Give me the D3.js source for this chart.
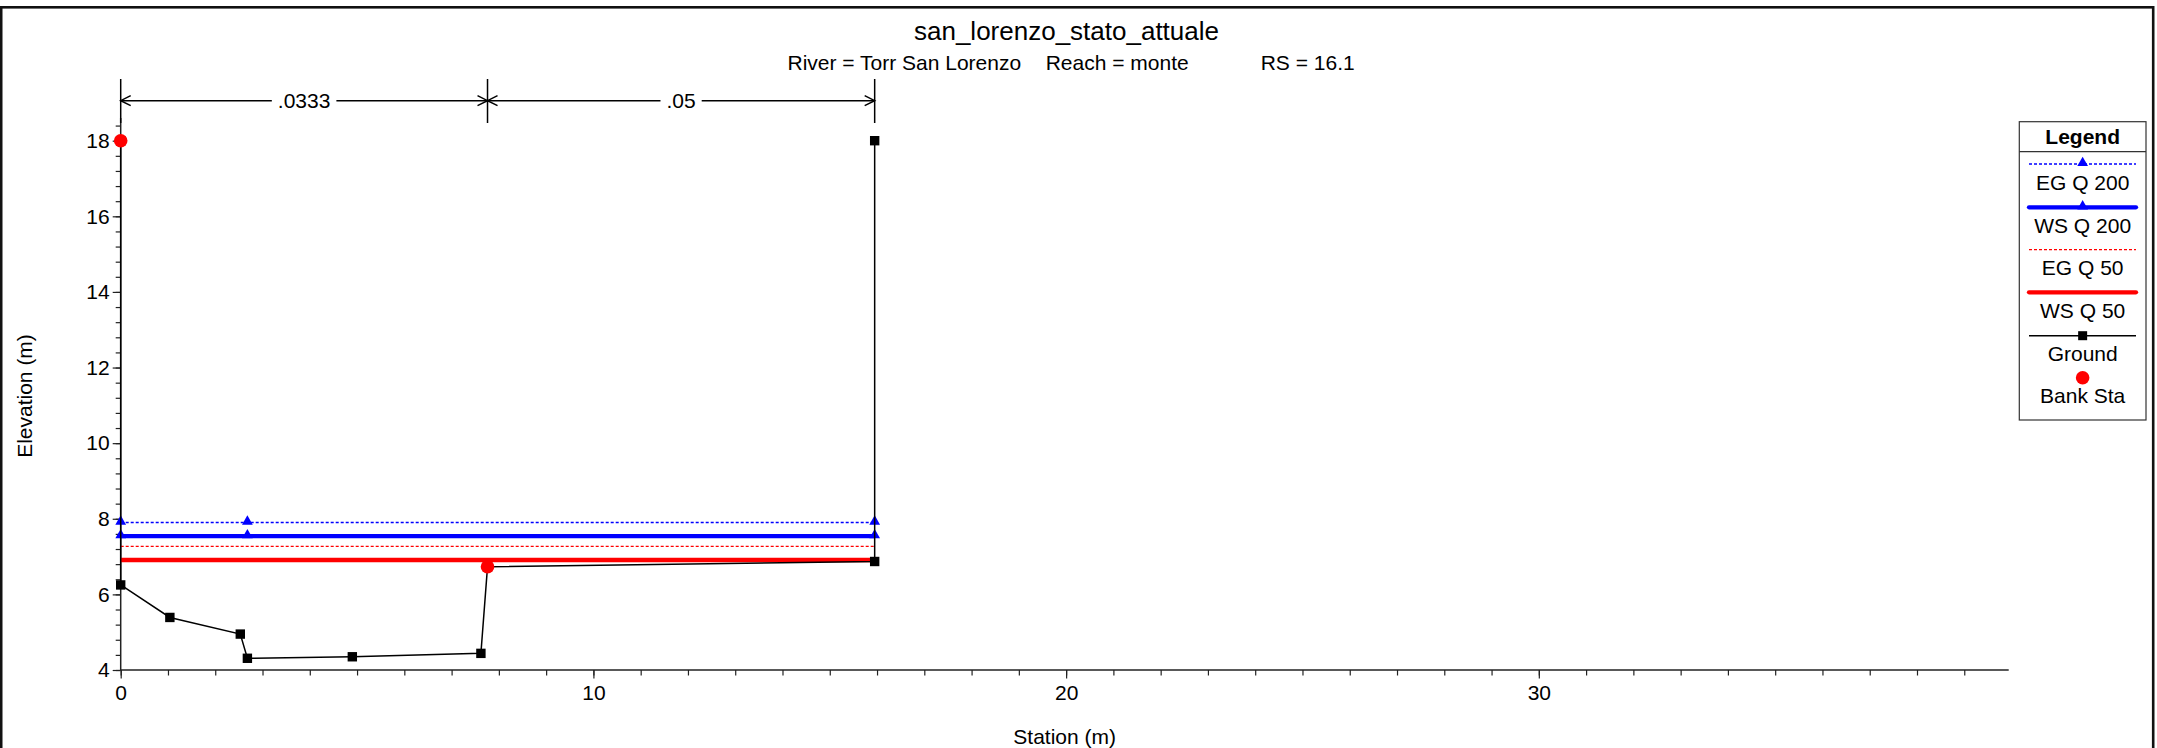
<!DOCTYPE html>
<html>
<head>
<meta charset="utf-8">
<script src="https://cdn.jsdelivr.net/npm/d3@7"></script>
<style>
  html, body { margin: 0; padding: 0; background: #fff; }
  svg { display: block; }
  text { font-family: "Liberation Sans", Arial, sans-serif; fill: #000; }
</style>
</head>
<body>
<svg id="chart" width="2157" height="748"></svg>
<script>
// ---------------- DATA ----------------
const titleText = "san_lorenzo_stato_attuale";
const subtitleParts = ["River = Torr San Lorenzo", "Reach = monte", "RS = 16.1"];
const xLabel = "Station (m)";
const yLabel = "Elevation (m)";

// Ground profile (station, elevation)
const groundStation = [0, 0, 1.04, 2.53, 2.68, 4.90, 7.62, 7.76, 15.95, 15.95];
const groundElev    = [18.0, 6.25, 5.39, 4.95, 4.31, 4.35, 4.44, 6.73, 6.87, 18.0];

// Bank stations
const bankStation = [0, 7.76];
const bankElev    = [18.0, 6.73];

// Water surface / energy grade elevations
const profileNames  = ["EG Q 200", "WS Q 200", "EG Q 50", "WS Q 50"];
const profileLevels = [7.90, 7.54, 7.27, 6.91];
const markerStations = [0, 2.68, 15.95];   // triangle markers on Q 200 lines

// Manning's n regions
const nValues   = [".0333", ".05"];
const nBreaks   = [0, 7.76, 15.95];

// Axis ticks
const xMajorTicks = [0, 10, 20, 30];
const yMajorTicks = [4, 6, 8, 10, 12, 14, 16, 18];

// Legend entries
const legendNames = ["EG Q 200", "WS Q 200", "EG Q 50", "WS Q 50", "Ground", "Bank Sta"];

// ---------------- LAYOUT ----------------
const svg = d3.select("#chart");
const x = d3.scaleLinear().domain([0, 39.94]).range([120.7, 2008.7]);
const y = d3.scaleLinear().domain([4, 18]).range([670, 140.7]);
const yTop = 18.6;

const BLUE = "#0000ff", RED = "#ff0000", AX = "#222";

// outer frame
svg.append("rect").attr("x", 1.2).attr("y", 7.3).attr("width", 2152).attr("height", 760)
  .attr("fill", "none").attr("stroke", "#111").attr("stroke-width", 2.6);

// title
svg.append("text").attr("x", 1066.5).attr("y", 40).attr("text-anchor", "middle")
  .style("font-size", "26px").text(titleText);
const subX = [787.5, 1045.7, 1260.7];
subtitleParts.forEach((t, i) => {
  svg.append("text").attr("x", subX[i]).attr("y", 70).style("font-size", "21px").text(t);
});

// ---------------- AXES ----------------
const gx = svg.append("g").attr("transform", `translate(0,${y(4)})`);
gx.call(d3.axisBottom(x).tickValues(d3.range(0, 40, 1)).tickSize(5.5).tickFormat(""))
  .call(g => g.select(".domain").remove());
gx.selectAll(".tick line").attr("stroke", AX).attr("stroke-width", 1.2);
const gx2 = svg.append("g").attr("transform", `translate(0,${y(4)})`);
gx2.call(d3.axisBottom(x).tickValues(xMajorTicks).tickSize(8.5).tickPadding(7).tickFormat(d3.format("d")))
  .call(g => g.select(".domain").remove());
gx2.selectAll(".tick line").attr("stroke", AX).attr("stroke-width", 1.2);
gx2.selectAll(".tick text").style("font-size", "21px").attr("fill", "#000").style("font-family", "Liberation Sans, Arial, sans-serif");
svg.append("line").attr("x1", x(0)).attr("x2", x(39.94)).attr("y1", y(4)).attr("y2", y(4))
  .attr("stroke", AX).attr("stroke-width", 1.5);

const gy = svg.append("g").attr("transform", `translate(${x(0)},0)`);
gy.call(d3.axisLeft(y).tickValues(d3.range(4, 18.5, 0.4)).tickSize(5).tickFormat(""))
  .call(g => g.select(".domain").remove());
gy.selectAll(".tick line").attr("stroke", AX).attr("stroke-width", 1.2);
const gy2 = svg.append("g").attr("transform", `translate(${x(0)},0)`);
gy2.call(d3.axisLeft(y).tickValues(yMajorTicks).tickSize(8).tickPadding(3).tickFormat(d3.format("d")))
  .call(g => g.select(".domain").remove());
gy2.selectAll(".tick line").attr("stroke", AX).attr("stroke-width", 1.2);
gy2.selectAll(".tick text").style("font-size", "21px").attr("fill", "#000").style("font-family", "Liberation Sans, Arial, sans-serif");
svg.append("line").attr("x1", x(0)).attr("x2", x(0)).attr("y1", y(4)).attr("y2", y(yTop))
  .attr("stroke", AX).attr("stroke-width", 1.5);

// axis titles
svg.append("text").attr("x", (x.range()[0] + x.range()[1]) / 2).attr("y", 744)
  .attr("text-anchor", "middle").style("font-size", "21px").text(xLabel);
svg.append("text").attr("transform", `translate(32,${396}) rotate(-90)`)
  .attr("text-anchor", "middle").style("font-size", "21px").text(yLabel);

// ---------------- MANNING n DIMENSION LINE ----------------
const dimY = 100.7;
const dim = svg.append("g").attr("stroke", "#000").attr("stroke-width", 1.5).attr("fill", "none");
nBreaks.forEach(s => {
  dim.append("line").attr("x1", x(s)).attr("x2", x(s)).attr("y1", 79).attr("y2", 123);
});
nValues.forEach((v, i) => {
  const a = x(nBreaks[i]), b = x(nBreaks[i + 1]), m = (a + b) / 2;
  const t = svg.append("text").attr("x", m).attr("y", dimY + 7.5).attr("text-anchor", "middle")
    .style("font-size", "21px").text(v);
  const bw = t.node().getBBox().width;
  dim.append("line").attr("x1", a).attr("x2", m - bw / 2 - 6).attr("y1", dimY).attr("y2", dimY);
  dim.append("line").attr("x1", m + bw / 2 + 6).attr("x2", b).attr("y1", dimY).attr("y2", dimY);
  // open arrowheads
  dim.append("path").attr("d", `M${a + 10},${dimY - 5}L${a},${dimY}L${a + 10},${dimY + 5}`);
  dim.append("path").attr("d", `M${b - 10},${dimY - 5}L${b},${dimY}L${b - 10},${dimY + 5}`);
});

// ---------------- PLOT MARKS ----------------
const xs0 = d3.min(groundStation), xs1 = d3.max(groundStation);
const lineStyles = [
  { color: BLUE, width: 1.5, dash: "3,2" },
  { color: BLUE, width: 4.3, dash: null },
  { color: RED,  width: 1.3, dash: "3,2" },
  { color: RED,  width: 4.3, dash: null }
];
profileLevels.forEach((lv, i) => {
  const st = lineStyles[i];
  const l = svg.append("line").attr("x1", x(xs0)).attr("x2", x(xs1)).attr("y1", y(lv)).attr("y2", y(lv))
    .attr("stroke", st.color).attr("stroke-width", st.width);
  if (st.dash) l.attr("stroke-dasharray", st.dash);
});
const tri = d3.symbol().type(d3.symbolTriangle).size(50);
[0, 1].forEach(i => {
  markerStations.forEach(s => {
    svg.append("path").attr("d", tri).attr("fill", BLUE)
      .attr("transform", `translate(${x(s)},${y(profileLevels[i]) - 1})`);
  });
});

// ground
const groundPts = groundStation.map((s, i) => [s, groundElev[i]]);
svg.append("path").datum(groundPts)
  .attr("d", d3.line().x(d => x(d[0])).y(d => y(d[1])))
  .attr("fill", "none").attr("stroke", "#000").attr("stroke-width", 1.5);
svg.selectAll(".gm").data(groundPts).enter().append("rect")
  .attr("x", d => x(d[0]) - 4.7).attr("y", d => y(d[1]) - 4.7)
  .attr("width", 9.4).attr("height", 9.4).attr("fill", "#000");

// bank stations
bankStation.forEach((s, i) => {
  svg.append("circle").attr("cx", x(s)).attr("cy", y(bankElev[i])).attr("r", 6.8).attr("fill", RED);
});

// ---------------- LEGEND ----------------
const lg = svg.append("g");
const LX0 = 2019.3, LX1 = 2146, LY0 = 121.7, LY1 = 420;
lg.append("rect").attr("x", LX0).attr("y", LY0).attr("width", LX1 - LX0).attr("height", LY1 - LY0)
  .attr("fill", "#fff").attr("stroke", "#333").attr("stroke-width", 1.2);
lg.append("line").attr("x1", LX0).attr("x2", LX1).attr("y1", 151.7).attr("y2", 151.7)
  .attr("stroke", "#333").attr("stroke-width", 1.2);
const LC = (LX0 + LX1) / 2;
lg.append("text").attr("x", LC).attr("y", 143.5).attr("text-anchor", "middle")
  .style("font-size", "21px").style("font-weight", "bold").text("Legend");
const itemY = [164, 207.3, 249.7, 292.3, 335.7, 377.7];
legendNames.forEach((name, i) => {
  const yy = itemY[i];
  if (i < 4) {
    const st = lineStyles[i];
    const l = lg.append("line").attr("x1", 2029).attr("x2", 2136).attr("y1", yy).attr("y2", yy)
      .attr("stroke", st.color).attr("stroke-width", st.width).attr("stroke-linecap", st.dash ? "butt" : "round");
    if (st.dash) l.attr("stroke-dasharray", st.dash);
    if (i < 2) lg.append("path").attr("d", tri).attr("fill", BLUE).attr("transform", `translate(${LC},${yy - 1})`);
  } else if (i === 4) {
    lg.append("line").attr("x1", 2029).attr("x2", 2136).attr("y1", yy).attr("y2", yy)
      .attr("stroke", "#000").attr("stroke-width", 1.5);
    lg.append("rect").attr("x", LC - 4.5).attr("y", yy - 4.5).attr("width", 9).attr("height", 9).attr("fill", "#000");
  } else {
    lg.append("circle").attr("cx", LC).attr("cy", yy).attr("r", 6.8).attr("fill", RED);
  }
  lg.append("text").attr("x", LC).attr("y", yy + 25.5).attr("text-anchor", "middle")
    .style("font-size", "21px").text(name);
});
</script>
</body>
</html>
